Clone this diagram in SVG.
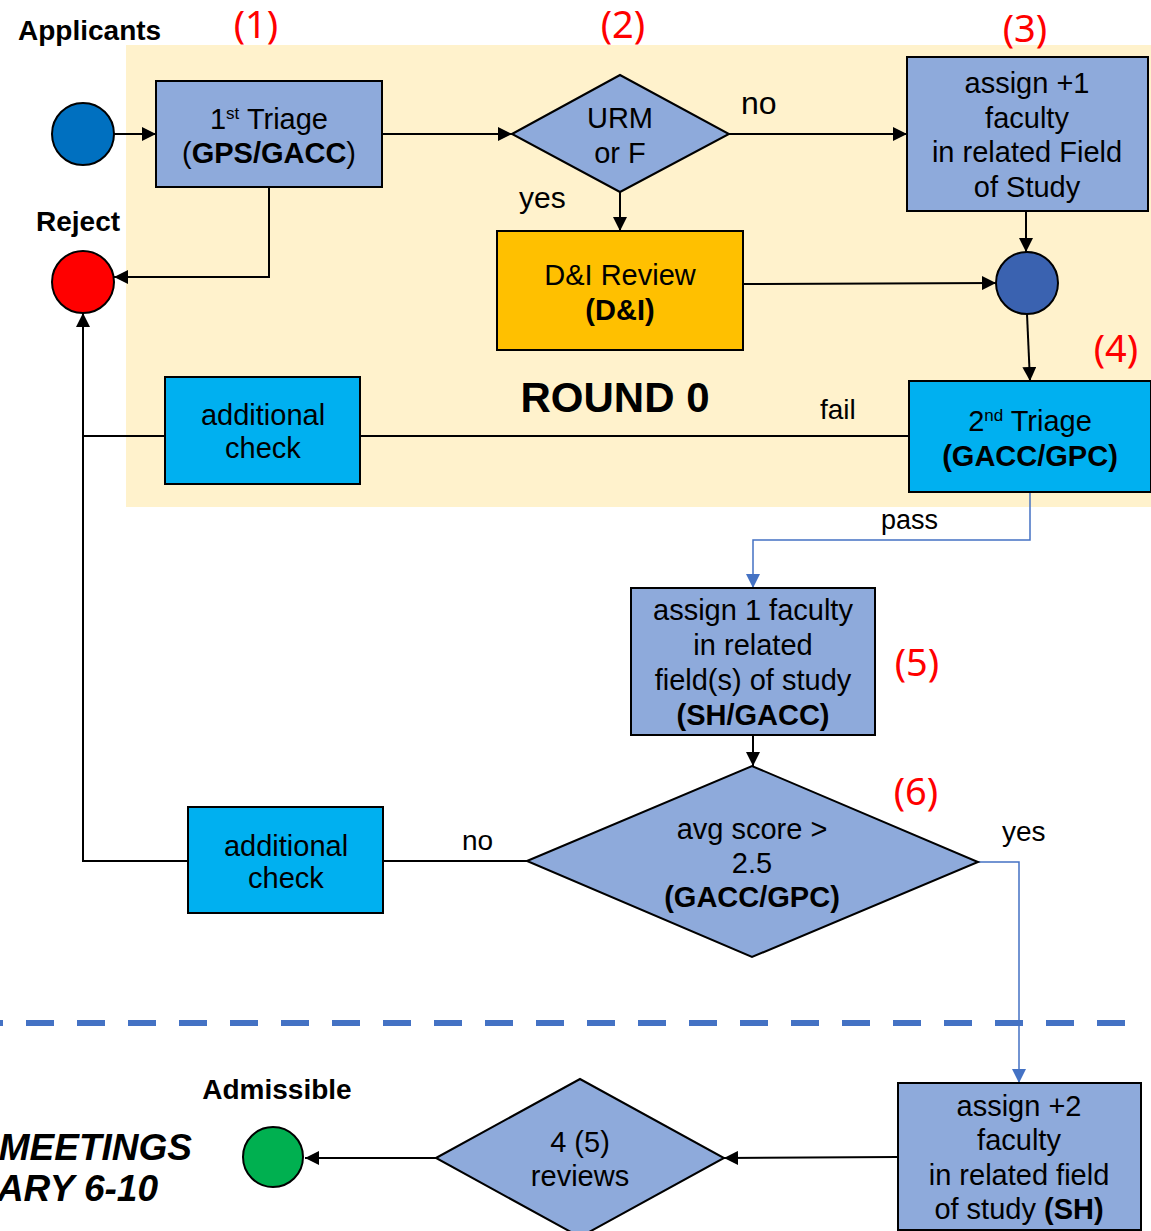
<svg xmlns="http://www.w3.org/2000/svg" width="1151" height="1231" viewBox="0 0 1151 1231">
<defs>
<marker id="ah" viewBox="0 0 10 10" refX="10" refY="5" markerWidth="14" markerHeight="14" markerUnits="userSpaceOnUse" orient="auto"><path d="M0,0 L10,5 L0,10 z" fill="#000"/></marker>
<marker id="ahb" viewBox="0 0 10 10" refX="10" refY="5" markerWidth="14" markerHeight="14" markerUnits="userSpaceOnUse" orient="auto"><path d="M0,0 L10,5 L0,10 z" fill="#4472C4"/></marker>
<style>
text{font-family:"Liberation Sans",Arial,sans-serif;fill:#000}
.t{font-size:29px;text-anchor:middle}
.b{font-weight:bold}
.num{font-family:"Noto Sans","Open Sans",sans-serif;font-size:38px;fill:#FF0000;text-anchor:middle}
.box{stroke:#000;stroke-width:2}
.c{stroke:#000;stroke-width:2;fill:none}
.cb{stroke:#4472C4;stroke-width:1.5;fill:none}
.lb{fill:#8EAADB}
</style>
</defs>
<rect x="0" y="0" width="1151" height="1231" fill="#fff"/>
<rect x="126" y="45" width="1025" height="462" fill="#FFF2CC"/>
<text x="615" y="412" font-size="42" font-weight="bold" text-anchor="middle">ROUND 0</text>

<g id="connectors">
<line class="c" x1="114" y1="134" x2="156" y2="134" marker-end="url(#ah)"/>
<line class="c" x1="382" y1="134" x2="512" y2="134" marker-end="url(#ah)"/>
<polyline class="c" points="269,187 269,277 114,277" marker-end="url(#ah)"/>
<line class="c" x1="729" y1="134" x2="907" y2="134" marker-end="url(#ah)"/>
<line class="c" x1="620" y1="192" x2="620" y2="231" marker-end="url(#ah)"/>
<line class="c" x1="743" y1="284" x2="996" y2="283" marker-end="url(#ah)"/>
<line class="c" x1="1026" y1="211" x2="1026" y2="252" marker-end="url(#ah)"/>
<line class="c" x1="1027" y1="314" x2="1030" y2="381" marker-end="url(#ah)"/>
<line class="c" x1="909" y1="436" x2="360" y2="436"/>
<polyline class="c" points="165,436 83,436 83,313" marker-end="url(#ah)"/>
<polyline class="cb" points="1030,492 1030,540 753,540 753,588" marker-end="url(#ahb)"/>
<line class="c" x1="753" y1="735" x2="753" y2="766" marker-end="url(#ah)"/>
<line class="c" x1="527" y1="861" x2="383" y2="861"/>
<polyline class="c" points="188,861 83,861 83,436"/>
<polyline class="cb" points="978,862 1019,862 1019,1083" marker-end="url(#ahb)"/>
<line class="c" x1="898" y1="1157" x2="724" y2="1158" marker-end="url(#ah)"/>
<line class="c" x1="436" y1="1158" x2="305" y2="1158" marker-end="url(#ah)"/>
<line x1="0" y1="1023" x2="1135" y2="1023" stroke="#4472C4" stroke-width="6" stroke-dasharray="28 23" stroke-dashoffset="25"/>
</g>

<g id="applicants">
<circle cx="83" cy="134" r="31" fill="#0070C0" class="box"/>
<text x="18" y="40" font-size="28" font-weight="bold">Applicants</text>
</g>
<g id="reject">
<circle cx="83" cy="282" r="31" fill="#FF0000" class="box"/>
<text x="36" y="231" font-size="28" font-weight="bold">Reject</text>
</g>
<g id="triage1">
<rect x="156" y="81" width="226" height="106" class="box lb"/>
<text class="t" x="269" y="129">1<tspan font-size="17" dy="-10">st</tspan><tspan dy="10"> Triage</tspan></text>
<text class="t" x="269" y="163">(<tspan class="b">GPS/GACC</tspan>)</text>
</g>
<g id="urm">
<polygon points="512,134 620,75 729,134 620,192" class="box lb"/>
<text class="t" x="620" y="128">URM</text>
<text class="t" x="620" y="163">or F</text>
</g>
<text x="741" y="114" font-size="32">no</text>
<text x="519" y="208" font-size="30">yes</text>
<g id="di">
<rect x="497" y="231" width="246" height="119" fill="#FFC000" class="box"/>
<text class="t" x="620" y="285">D&amp;I Review</text>
<text class="t b" x="620" y="320">(D&amp;I)</text>
</g>
<g id="assign1">
<rect x="907" y="57" width="241" height="154" class="box lb"/>
<text class="t" x="1027" y="93">assign +1</text>
<text class="t" x="1027" y="128">faculty</text>
<text class="t" x="1027" y="162">in related Field</text>
<text class="t" x="1027" y="197">of Study</text>
</g>
<g id="join">
<circle cx="1027" cy="283" r="31" fill="#3A62B0" class="box"/>
</g>
<g id="triage2">
<rect x="909" y="381" width="242" height="111" fill="#00B0F0" class="box"/>
<text class="t" x="1030" y="431">2<tspan font-size="17" dy="-10">nd</tspan><tspan dy="10"> Triage</tspan></text>
<text class="t b" x="1030" y="466">(GACC/GPC)</text>
</g>
<text x="820" y="419" font-size="28">fail</text>
<text x="881" y="529" font-size="27">pass</text>
<g id="check1">
<rect x="165" y="377" width="195" height="107" fill="#00B0F0" class="box"/>
<text class="t" x="263" y="425">additional</text>
<text class="t" x="263" y="458">check</text>
</g>
<g id="assign1f">
<rect x="631" y="588" width="244" height="147" class="box lb"/>
<text class="t" x="753" y="620">assign 1 faculty</text>
<text class="t" x="753" y="655">in related</text>
<text class="t" x="753" y="690">field(s) of study</text>
<text class="t b" x="753" y="725">(SH/GACC)</text>
</g>
<g id="avg">
<polygon points="527,861 752,766 978,862 752,957" class="box lb"/>
<text class="t" x="752" y="839">avg score &gt;</text>
<text class="t" x="752" y="873">2.5</text>
<text class="t b" x="752" y="907">(GACC/GPC)</text>
</g>
<text x="462" y="850" font-size="28">no</text>
<text x="1002" y="841" font-size="28">yes</text>
<g id="check2">
<rect x="188" y="807" width="195" height="106" fill="#00B0F0" class="box"/>
<text class="t" x="286" y="856">additional</text>
<text class="t" x="286" y="888">check</text>
</g>
<text class="num" x="256" y="38">(1)</text>
<text class="num" x="623" y="38">(2)</text>
<text class="num" x="1025" y="42">(3)</text>
<text class="num" x="1116" y="362">(4)</text>
<text class="num" x="917" y="676">(5)</text>
<text class="num" x="916" y="805">(6)</text>
<g id="assign2">
<rect x="898" y="1083" width="243" height="147" class="box lb"/>
<text class="t" x="1019" y="1116">assign +2</text>
<text class="t" x="1019" y="1150">faculty</text>
<text class="t" x="1019" y="1185">in related field</text>
<text class="t" x="1019" y="1219">of study <tspan class="b">(SH)</tspan></text>
</g>
<g id="reviews">
<polygon points="436,1158 580,1079 724,1158 580,1237" class="box lb"/>
<text class="t" x="580" y="1152">4 (5)</text>
<text class="t" x="580" y="1186">reviews</text>
</g>
<g id="admissible">
<circle cx="273" cy="1157" r="30" fill="#00B050" class="box"/>
<text x="277" y="1099" font-size="28" font-weight="bold" text-anchor="middle">Admissible</text>
</g>
<text x="192" y="1160" font-size="37" font-weight="bold" font-style="italic" text-anchor="end">MEETINGS</text>
<text x="158" y="1201" font-size="37" font-weight="bold" font-style="italic" text-anchor="end">ARY 6-10</text>
</svg>
